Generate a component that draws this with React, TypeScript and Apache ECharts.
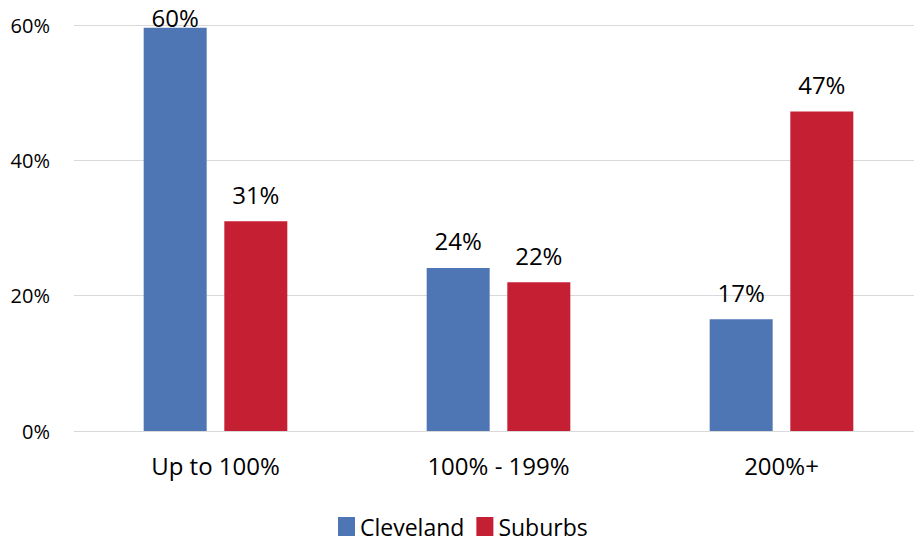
import React, { useEffect, useRef } from "react";
import * as echarts from "echarts";

const categories = ["Up to 100%", "100% - 199%", "200%+"];
const cleveland = [59.6, 24.1, 16.5];
const suburbs = [31.0, 22.0, 47.2];
const yTicks = [0, 20, 40, 60];

const FONT = "'Open Sans', 'Noto Sans', sans-serif";

export default function App() {
  const ref = useRef<HTMLDivElement>(null);
  useEffect(() => {
    const chart = echarts.init(ref.current!, null, { renderer: "svg" });
    const labelFmt = (p: any) => Math.round(p.value) + "%";
    chart.setOption({
      animation: false,
      textStyle: { fontFamily: FONT },
      grid: { left: 74, right: 0, top: 25, bottom: 112 },
      legend: {
        data: ["Cleveland", "Suburbs"],
        top: 510,
        left: 333,
        itemWidth: 17,
        itemHeight: 19,
        itemGap: 12,
        icon: "rect",
        textStyle: { fontSize: 23, color: "#000", fontFamily: FONT },
      },
      xAxis: {
        type: "category",
        data: categories,
        axisTick: { show: false },
        axisLine: { lineStyle: { color: "#d9d9d9", width: 1 } },
        axisLabel: { fontSize: 24, color: "#000", margin: 22, fontFamily: FONT },
      },
      yAxis: {
        type: "value",
        min: yTicks[0],
        max: yTicks[yTicks.length - 1],
        interval: 20,
        axisLabel: { formatter: "{value}%", fontSize: 20, color: "#000", margin: 24, fontFamily: FONT },
        splitLine: { lineStyle: { color: "#d9d9d9", width: 1 } },
        axisLine: { show: false },
        axisTick: { show: false },
      },
      series: [
        {
          name: "Cleveland",
          type: "bar",
          data: cleveland.map((v, i) =>
            i === 0 ? { value: v, label: { distance: -2 } } : v
          ),
          itemStyle: { color: "#4E76B4" },
          barWidth: 63,
          barGap: "28%",
          label: { show: true, position: "top", distance: 15, fontSize: 24, color: "#000", formatter: labelFmt, fontFamily: FONT },
        },
        {
          name: "Suburbs",
          type: "bar",
          data: suburbs,
          itemStyle: { color: "#C41F33" },
          barWidth: 63,
          label: { show: true, position: "top", distance: 15, fontSize: 24, color: "#000", formatter: labelFmt, fontFamily: FONT },
        },
      ],
    });
    return () => chart.dispose();
  }, []);
  return (
    <div style={{ width: 914, height: 543, position: "absolute", left: 0, top: 0, overflow: "hidden" }}>
      <div ref={ref} style={{ width: 923, height: 543 }} />
    </div>
  );
}
